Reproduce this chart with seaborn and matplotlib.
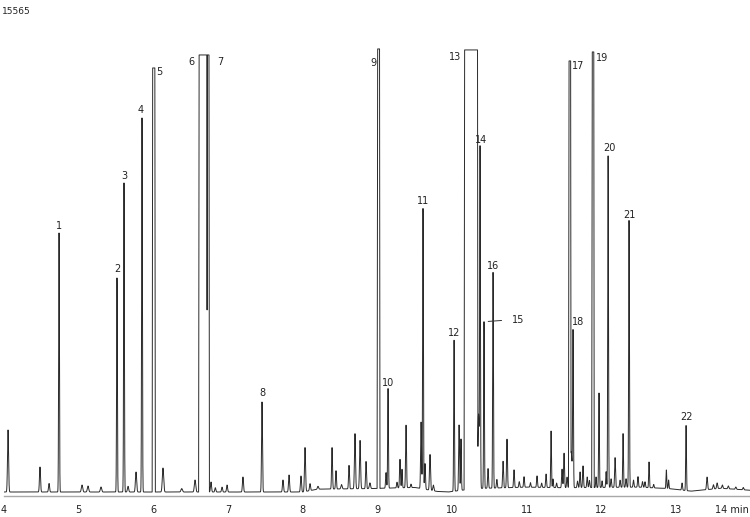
import numpy as np
import pandas as pd
import matplotlib
matplotlib.use("Agg")
import matplotlib.pyplot as plt
import seaborn as sns

# ---------------- data ----------------
full_scale = 15565

# sharp peaks: retention time (min), height (counts), width (sigma, min)
peak_times = [4.054, 4.482, 4.603, 4.737, 5.045, 5.125, 5.299, 5.513, 5.607, 5.661,
              5.768, 5.848, 6.129, 6.38, 6.558, 6.772, 6.83, 6.92, 6.987, 7.2,
              7.455, 7.736, 7.817, 7.977, 8.031, 8.098, 8.205, 8.393, 8.446, 8.52,
              8.62, 8.70, 8.768, 8.848, 8.90,
              9.116, 9.143, 9.263, 9.303, 9.33, 9.384, 9.45, 9.585, 9.611, 9.638,
              9.705, 9.75, 10.027, 10.094, 10.12, 10.355, 10.375, 10.428, 10.482, 10.549,
              10.6, 10.683, 10.736, 10.83, 10.9, 10.964, 11.05, 11.138, 11.2, 11.259,
              11.326, 11.352, 11.4, 11.473, 11.5, 11.54, 11.595, 11.62, 11.68, 11.714,
              11.754, 11.81, 11.84, 11.928, 11.968, 12.009, 12.063, 12.09, 12.13, 12.183,
              12.25, 12.29, 12.33, 12.37, 12.43, 12.49, 12.55, 12.584, 12.638, 12.7,
              12.87, 12.9, 13.08, 13.134, 13.415, 13.5, 13.55, 13.62, 13.7, 13.8, 13.9]
peak_heights = [2174, 877, 300, 9080, 245, 210, 175, 7503, 10834, 200,
                701, 13112, 841, 120, 421, 351, 150, 170, 245, 526,
                3155, 421, 596, 561, 1543, 245, 100, 1450, 640, 150,
                820, 1930, 1690, 950, 200,
                546, 3490, 200, 1000, 650, 2190, 120, 2330, 9830, 900,
                1250, 200, 5294, 2300, 1800, 2600, 11900, 5840, 690, 7560,
                300, 930, 1700, 620, 200, 370, 160, 400, 150, 470,
                1980, 300, 160, 650, 1210, 370, 1250, 5400, 230, 550,
                760, 370, 250, 370, 3310, 230, 550, 11620, 300, 1040,
                250, 1880, 300, 9350, 250, 370, 200, 200, 900, 120,
                650, 300, 250, 2280, 440, 150, 200, 120, 100, 80, 80]
peak_widths = [0.007, 0.007, 0.007, 0.005, 0.009, 0.009, 0.009, 0.005, 0.005, 0.008,
               0.008, 0.005, 0.009, 0.010, 0.009, 0.007, 0.007, 0.007, 0.007, 0.007,
               0.006, 0.007, 0.007, 0.007, 0.007, 0.007, 0.008, 0.006, 0.006, 0.008,
               0.006, 0.007, 0.007, 0.006, 0.008,
               0.006, 0.005, 0.006, 0.006, 0.005, 0.006, 0.006, 0.006, 0.005, 0.006,
               0.007, 0.007, 0.005, 0.006, 0.005, 0.008, 0.005, 0.005, 0.006, 0.005,
               0.006, 0.006, 0.006, 0.006, 0.006, 0.006, 0.006, 0.006, 0.006, 0.006,
               0.005, 0.005, 0.006, 0.006, 0.006, 0.006, 0.012, 0.005, 0.006, 0.006,
               0.006, 0.006, 0.006, 0.005, 0.005, 0.005, 0.005, 0.005, 0.006, 0.006,
               0.006, 0.005, 0.006, 0.005, 0.006, 0.006, 0.006, 0.006, 0.005, 0.006,
               0.005, 0.005, 0.006, 0.005, 0.007, 0.007, 0.007, 0.007, 0.007, 0.007, 0.007]

# off-scale (flat-topped) peaks: start, end, plateau level
plateau_start = [5.990, 6.612, 6.7231, 9.002, 10.167, 11.565, 11.876]
plateau_end = [6.020, 6.716, 6.745, 9.029, 10.341, 11.588, 11.898]
plateau_level = [14865, 15321, 15321, 15532, 15497, 15111, 15426]

# baseline drift
baseline_times = [4.0, 8.0, 8.2, 8.9, 9.5, 9.8, 9.95, 10.3, 11.0, 11.5, 12.5, 12.9, 13.2, 13.6, 14.0]
baseline_values = [0, 0, 100, 120, 160, 20, 0, 120, 170, 150, 170, 120, 30, 130, 60]

# numbered peaks: label and retention time of the labelled peak
label_names = [str(i) for i in range(1, 23)]
label_times = [4.737, 5.513, 5.607, 5.848, 6.005, 6.612, 6.745, 7.455, 9.015, 9.143,
               9.611, 10.027, 10.167, 10.375, 10.428, 10.549, 11.565, 11.62, 11.887, 12.09,
               12.37, 13.134]

tick_values = list(range(4, 14))
tick_labels = [str(v) for v in tick_values]

# ---------------- build the trace ----------------
t = np.arange(4.0, 14.0, 0.0005)
signal = np.interp(t, baseline_times, baseline_values).astype(float)
for pt, ph, pw in zip(peak_times, peak_heights, peak_widths):
    signal += ph * np.exp(-0.5 * ((t - pt) / pw) ** 2)
ramp = 0.006
for s, e, lv in zip(plateau_start, plateau_end, plateau_level):
    shape = np.clip(np.minimum((t - (s - ramp)) / ramp, ((e + ramp) - t) / ramp), 0, 1)
    signal = np.maximum(signal, lv * shape)
df = pd.DataFrame({"time": t, "signal": signal})

# ---------------- draw ----------------
sns.set_style("white")
plt.rcParams["font.family"] = ["DejaVu Sans"]

W, H = 750, 517
fig = plt.figure(figsize=(W / 100, H / 100), dpi=100)
ax = fig.add_axes([4 / W, 21 / H, 746 / W, 448 / H])
sns.lineplot(data=df, x="time", y="signal", ax=ax, color="#2a2a2a",
             linewidth=0.7, estimator=None, sort=False)
ax.set_xlim(4, 13.99)
ax.set_ylim(-140, full_scale)
ax.set_xlabel("")
ax.set_ylabel("")
for side in ["left", "top", "right"]:
    ax.spines[side].set_visible(False)
ax.spines["bottom"].set_color("#a8a8a8")
ax.spines["bottom"].set_linewidth(1.0)
ax.set_yticks([])
ax.set_xticks(tick_values)
ax.set_xticklabels(tick_labels)
ax.tick_params(axis="x", direction="out", length=4.3, width=0.8, color="#444444",
               pad=2, labelsize=7, labelcolor="#222222")

# label offsets in pixels (dx, dy up)
offsets = {"1": (0, 7), "2": (0, 9), "3": (0, 7), "4": (-1, 8), "5": (6, -4),
           "6": (-8, -7), "7": (11, -7), "8": (0, 9), "9": (-5, -14), "10": (0, 6),
           "11": (0, 8), "12": (0, 7), "13": (-9, -7), "14": (1, 6), "16": (0, 6),
           "17": (9, -5), "18": (5, 8), "19": (9, -6), "20": (1, 8), "21": (0, 6),
           "22": (0, 9)}
for name, lt in zip(label_names, label_times):
    yv = float(np.interp(lt, t, signal))
    if name == "15":
        ax.annotate(name, xy=(lt, yv), xytext=(34 * 0.72, 2 * 0.72),
                    textcoords="offset points", ha="center", va="center",
                    fontsize=7, color="#222222",
                    arrowprops=dict(arrowstyle="-", color="#333333", lw=0.7,
                                    shrinkA=5, shrinkB=3, relpos=(0, 0.5)))
        continue
    dx, dy = offsets[name]
    ax.annotate(name, xy=(lt, yv), xytext=(dx * 0.72, dy * 0.72),
                textcoords="offset points", ha="center", va="center",
                fontsize=7, color="#222222")

fig.text(2 / W, 1 - 12 / H, str(full_scale), ha="left", va="center",
         fontsize=6.5, color="#222222")
fig.text(749 / W, 1 - 510 / H, "14 min", ha="right", va="center",
         fontsize=7, color="#222222")

fig.savefig("out.png", dpi=100)
